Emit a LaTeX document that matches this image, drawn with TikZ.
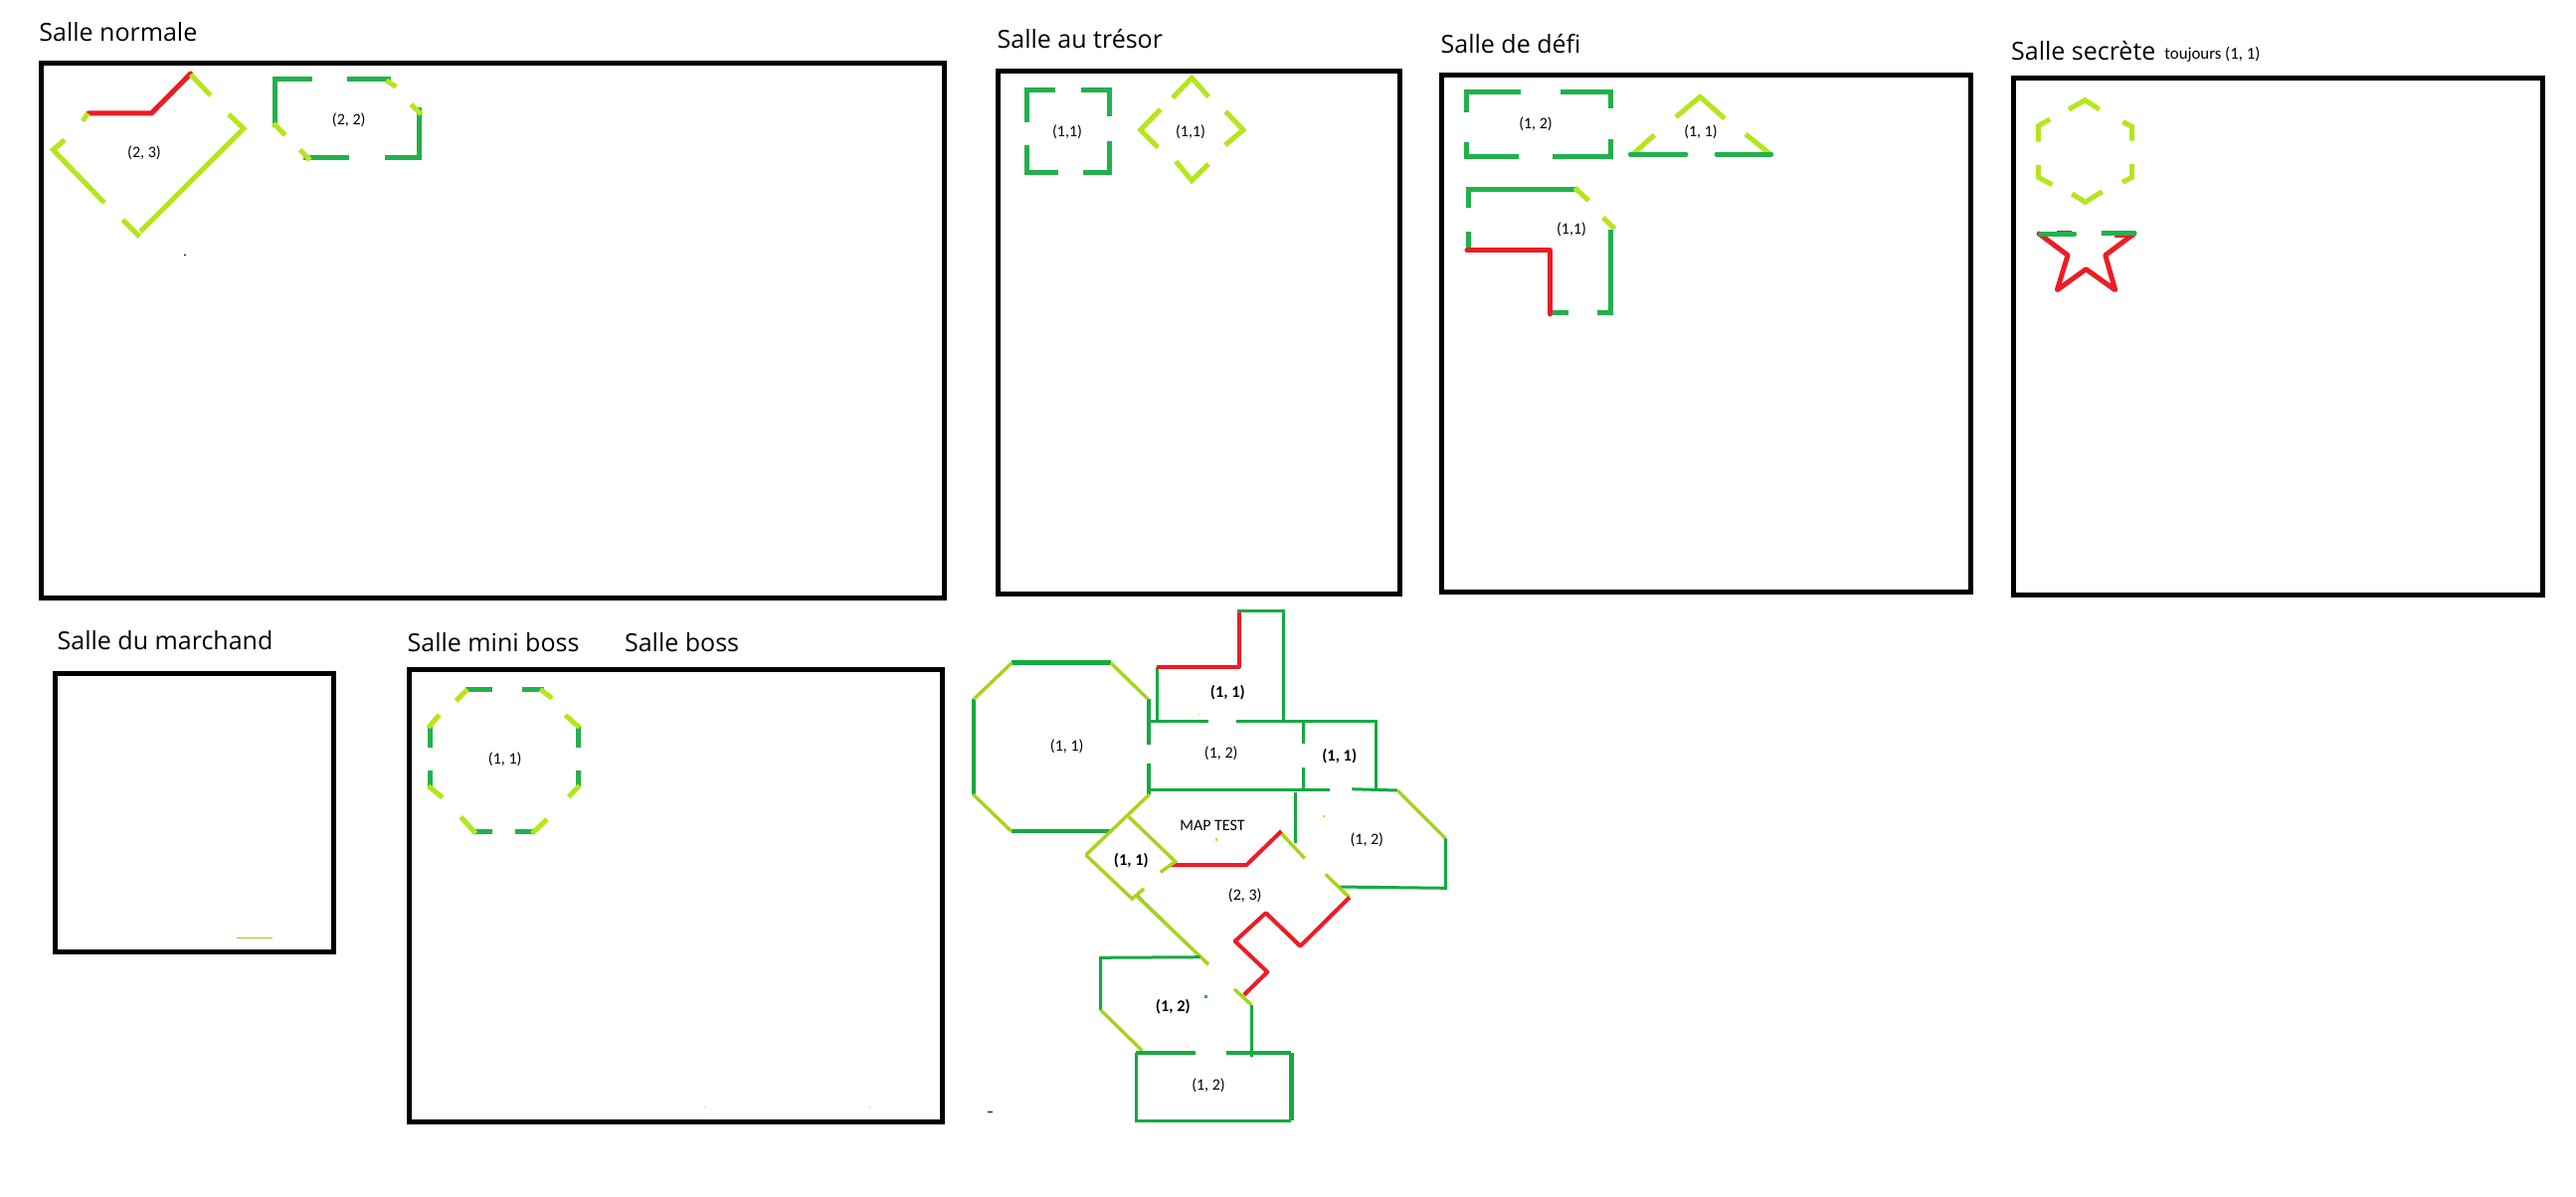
\documentclass[tikz,border=0pt]{standalone}
\usepackage{fontspec}
\setmainfont{Carlito}
\newfontfamily\titlefont{Open Sans}
\definecolor{wgreen}{HTML}{22B14C}
\definecolor{wlime}{HTML}{B5E61D}
\definecolor{wred}{HTML}{ED1C24}
\definecolor{mgreen}{HTML}{14AA40}
\tikzset{
  frame/.style={draw=black,line width=2.5pt,miter limit=10},
  ttl/.style={anchor=base west,inner sep=0pt,font=\titlefont\fontsize{12.5}{15}\selectfont},
  lbl/.style={inner sep=0pt,font=\fontsize{8}{10}\selectfont},
  lblb/.style={inner sep=0pt,font=\bfseries\fontsize{8.2}{10}\selectfont},
  gw/.style={draw=wgreen,line width=2.5pt},
  lw/.style={draw=wlime,line width=2.5pt},
  rw/.style={draw=wred,line width=2.5pt,line cap=round,line join=round},
  mg/.style={draw=mgreen,line width=1.5pt},
  mgt/.style={draw=mgreen,line width=2.4pt},
  ml/.style={draw=wlime!92!black,line width=1.7pt},
  mr/.style={draw=wred,line width=2pt,line join=round},
  blk/.style={draw=black,line width=0.5pt},
}
\begin{document}
\begin{tikzpicture}[x=0.5pt,y=-0.5pt]
\path[use as bounding box,fill=white] (0,0) rectangle (2590,1204);
% frames
\draw[frame] (41.5,63.5) rectangle (949.5,601.5);
\draw[frame] (1003.5,71.5) rectangle (1407.5,597.5);
\draw[frame] (1449.5,75.5) rectangle (1981.5,595.5);
\draw[frame] (2024.5,78.5) rectangle (2556.5,598.5);
\draw[frame] (55.5,677.5) rectangle (335.5,957.5);
\draw[frame] (411.5,673.5) rectangle (947.5,1128);
% titles
\node[ttl] (t1) at (39,41.7) {Salle normale};
\node[ttl] (t2) at (1002.3,48.3) {Salle au trésor};
\node[ttl] (t3) at (1448.3,53.3) {Salle de défi};
\node[ttl] (t4) at (2021.7,60.7) {Salle secrète};
\node[anchor=base west,inner sep=0pt,font=\fontsize{8.4}{10}\selectfont] (t4b) at (2176,59.3) {toujours (1, 1)};
\node[ttl] (t5) at (57.3,653.3) {Salle du marchand};
\node[ttl] (t6) at (409.3,655.7) {Salle mini boss};
\node[ttl] (t7) at (627.7,655) {Salle boss};
% ---- salle normale: (2,3)
\draw[blk] (151,113) -- (190.5,73);
\draw[rw] (89,114) -- (152.3,114) -- (191.7,74);
\draw[lw] (191.7,75) -- (211.7,96);
\draw[lw] (230,115) -- (245,129.3) -- (141,233);
\draw[lw] (123.3,221) -- (140.5,238);
\draw[lw] (105,204) -- (53.3,150.7) -- (65,140.7);
\draw[lw] (88.3,114) -- (83.3,121.7);
\node[lbl] (n1) at (145,153.3) {(2, 3)};
% (2,2)
\draw[gw] (314,79.3) -- (276.3,79.3) -- (276.3,128);
\draw[gw] (349,79.3) -- (393.3,79.3);
\draw[gw] (421.7,108.3) -- (421.7,158.3) -- (386.7,158.3);
\draw[gw] (351,158.3) -- (305,158.3);
\draw[lw] (388.3,81) -- (398.3,87.3);
\draw[lw] (413.3,105) -- (423.3,115);
\draw[lw] (301.7,150.7) -- (311.7,161);
\draw[lw] (275,124) -- (286.7,136);
\node[lbl] (n2) at (350.7,120.7) {(2, 2)};
\fill[black] (185,255.7) rectangle (186.5,257);
% ---- trésor
\draw[gw] (1061,90.3) -- (1032.3,90.3) -- (1032.3,122.7);
\draw[gw] (1086.7,90.3) -- (1115.7,90.3) -- (1115.7,116.7);
\draw[gw] (1032.3,146) -- (1032.3,173.3) -- (1064,173.3);
\draw[gw] (1089,173.3) -- (1115.7,173.3) -- (1115.7,142);
\node[lbl] (n3) at (1073,132.7) {(1,1)};
\draw[lw] (1179,98.3) -- (1198.3,78.3) -- (1215,97.3);
\draw[lw] (1166.7,110) -- (1146.7,130.7) -- (1164,148.3);
\draw[lw] (1232.3,112.3) -- (1250,130.7) -- (1231.7,146);
\draw[lw] (1182.3,162.3) -- (1198.3,181.7) -- (1215,165);
\node[lbl] (n4) at (1197,132.7) {(1,1)};
% ---- défi
\draw[gw] (1529,92.3) -- (1474.3,92.3) -- (1474.3,112.7);
\draw[gw] (1569,92.3) -- (1619.3,92.3) -- (1619.3,109);
\draw[gw] (1474.3,143) -- (1474.3,157.3) -- (1527,157.3);
\draw[gw] (1561,157.3) -- (1619.3,157.3) -- (1619.3,140);
\node[lbl] (n5) at (1544,125) {(1, 2)};
\draw[lw] (1685,117.7) -- (1709.3,97.3) -- (1734,119.3);
\draw[lw] (1663.3,135.7) -- (1641.7,155);
\draw[lw] (1755,135) -- (1780,155);
\draw[gw,line cap=round] (1639.3,155) -- (1695,155);
\draw[gw,line cap=round] (1726,155) -- (1780.7,155);
\node[lbl] (n6) at (1710,132.7) {(1, 1)};
\draw[gw] (1476.7,208.7) -- (1476.7,190.3) -- (1586.7,190.3);
\draw[lw] (1583.3,189) -- (1597.3,201.7);
\draw[lw] (1611.7,219) -- (1623.3,230);
\draw[gw] (1619.3,231) -- (1619.3,314.3) -- (1606,314.3);
\draw[gw] (1577,314.3) -- (1560,314.3);
\draw[gw] (1476.7,233.3) -- (1476.7,251.7);
\draw[rw] (1558.3,316) -- (1558.3,251.7) -- (1475,251.7);
\node[lbl] (n7) at (1580,230.7) {(1,1)};
% ---- secrète
\draw[lw] (2080,110) -- (2096.3,100.7) -- (2110.7,110);
\draw[lw] (2061,120) -- (2049.3,126.7) -- (2049.3,142.7);
\draw[lw] (2134.3,122.7) -- (2143.7,127.3) -- (2143.7,141.7);
\draw[lw] (2049.3,166) -- (2049.3,178.3) -- (2063.3,185.7);
\draw[lw] (2143.7,165) -- (2143.7,178.3) -- (2134,183.3);
\draw[lw] (2083.3,195) -- (2096.3,203.3) -- (2113.7,192.7);
\draw[rw] (2050,235) -- (2079,256.7) -- (2068.3,291.7) -- (2097.3,270.7) -- (2126.7,291.7) -- (2116.7,256.7) -- (2145.7,235);
\draw[rw,line cap=butt] (2068,234) -- (2082.7,234);
\draw[rw,line cap=butt] (2113,234.5) -- (2128,234.5);
\draw[rw,line cap=butt] (2126,236) -- (2146,236);
\draw[gw,line cap=round] (2051.7,235.3) -- (2085.7,235.3);
\draw[gw,line cap=round] (2115,234.3) -- (2146,234.3);
% ---- marchand
\draw[draw=wlime!85!black,line width=0.5pt] (238,943.3) -- (274,943.3);
% ---- mini boss
\draw[gw] (467.7,693.3) -- (495,693.3);
\draw[gw] (525,693.3) -- (546.7,693.3);
\draw[gw] (581.3,730) -- (581.3,751.7);
\draw[gw] (581.3,775) -- (581.3,791.7);
\draw[gw] (538.3,836.7) -- (517.7,836.7);
\draw[gw] (495,836.7) -- (475,836.7);
\draw[gw] (432.3,791.7) -- (432.3,775);
\draw[gw] (432.3,751.7) -- (432.3,730);
\draw[lw] (543.3,693.3) -- (555,702.3);
\draw[lw] (568.3,719.3) -- (582.7,731.7);
\draw[lw] (582.7,790) -- (571.7,801.7);
\draw[lw] (550,824) -- (535,838.3);
\draw[lw] (478.3,838.3) -- (463.3,821.7);
\draw[lw] (445,802.3) -- (430.7,790.7);
\draw[lw] (430.7,731.7) -- (441.7,719);
\draw[lw] (470,693.3) -- (458.3,705);
\node[lbl] (n8) at (507.7,764) {(1, 1)};
% ---- map: octagon
\draw[mgt] (1017.3,666.7) -- (1116.7,666.7);
\draw[mgt] (1155,703.3) -- (1155,749);
\draw[mgt] (1155,768.3) -- (1155,799);
\draw[mgt] (1016.7,836) -- (1116.7,836);
\draw[mgt] (979,799) -- (979,703.3);
\draw[ml] (1116.7,666.7) -- (1154.3,703.3);
\draw[ml] (979,703.3) -- (1017.3,666.7);
\draw[ml] (1016.7,836) -- (978.3,799);
\draw[ml] (1155.7,799) -- (1091.7,860);
\node[lbl] (m1) at (1072.7,750.7) {(1, 1)};
% top room
\draw[mg] (1163.3,725) -- (1163.3,670.7);
\draw[mr] (1163.3,670.7) -- (1245.7,670.7) -- (1245.7,615);
\draw[mg] (1244.3,614) -- (1290.7,614) -- (1290.7,725);
\node[lblb] (m2) at (1234.3,696.7) {(1, 1)};
% corridor
\draw[mg] (1156.7,725) -- (1215,725);
\draw[mg] (1243.3,725) -- (1383.3,725) -- (1383.3,794.3);
\draw[mg] (1310.7,726.7) -- (1310.7,748.3);
\draw[mg] (1310.7,772.3) -- (1310.7,794.3);
\draw[mg] (1156.7,794.3) -- (1336.7,794.3);
\node[lbl] (m3) at (1227.7,757.3) {(1, 2)};
\node[lblb] (m4) at (1346.7,761) {(1, 1)};
% right room
\draw[mg] (1359.3,793.7) -- (1405,795);
\draw[ml] (1405,795) -- (1453.3,843.3);
\draw[mg] (1453.3,843.3) -- (1453.3,893.3) -- (1345,892);
\draw[mg] (1302.7,796.7) -- (1302.7,848.3);
\draw[ml] (1332.7,879.3) -- (1356.7,902.7);
\draw[ml] (1288.3,838.3) -- (1311.7,863.3);
\node[lbl] (m5) at (1374.3,845) {(1, 2)};
% centre (2,3)
\draw[blk] (1273.7,917.3) -- (1308,950.7);
\draw[mr] (1356.7,902.7) -- (1307.3,951.7) -- (1272.7,918.3) -- (1241.7,946.7) -- (1274.3,977.7) -- (1250.7,1000.7);
\draw[mr] (1288.3,836) -- (1253.3,870) -- (1176.7,870);
\node[lbl] (m6) at (1251.7,901) {(2, 3)};
\node[font=\fontsize{8}{10}\selectfont,inner sep=0pt] (m7) at (1219,830) {MAP TEST};
% diamond (1,1)
\draw[ml] (1135,821.7) -- (1181.7,866.7) -- (1166.7,877.3);
\draw[ml] (1091.7,860) -- (1138.3,904) -- (1150,894);
\node[lblb] (m8) at (1137.3,865.7) {(1, 1)};
% long diagonal
\draw[blk] (1144.3,900.7) -- (1206,961);
\draw[ml] (1143.3,901.7) -- (1215,970);
\draw[ml] (1241,995) -- (1258.3,1010.7);
% lower rooms
\draw[mg] (1258.3,1010.7) -- (1258.3,1063.3);
\draw[mg] (1206.7,962.7) -- (1106.7,963.3) -- (1106.7,1016);
\draw[ml] (1106.7,1016) -- (1148.3,1056.7);
\node[lblb] (m9) at (1179.3,1012.3) {(1, 2)};
\draw[mgt] (1141.7,1059) -- (1201.7,1059);
\draw[mgt] (1232.7,1059) -- (1298.3,1059);
\draw[mg] (1142.3,1059) -- (1142.3,1127.3) -- (1298.3,1127.3);
\draw[mgt] (1298.3,1127.3) -- (1298.3,1059);
\node[lbl] (m10) at (1215,1091.7) {(1, 2)};
% specks
\fill[wlime] (1329.8,819.5) rectangle (1332.2,822);
\fill[wlime] (1221.5,843) rectangle (1224,845.5);
\fill[wlime] (1205,717.6) rectangle (1206.4,719);
\fill[wgreen] (1211,1001.4) rectangle (1213.6,1004);
\fill[wlime] (1192.6,1051.6) rectangle (1194,1053);
\fill[black] (993,1117.5) rectangle (998,1118.7);
\fill[wlime] (707.5,1112.5) rectangle (708.7,1113.5);
\fill[wlime] (873.5,1112.5) rectangle (874.7,1113.5);
\end{tikzpicture}
\end{document}
